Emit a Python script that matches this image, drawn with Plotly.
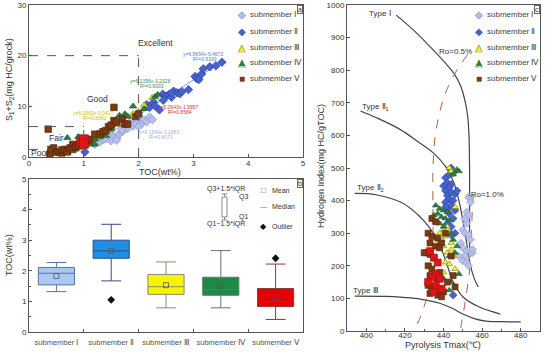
import numpy as np
import plotly.graph_objects as go

FONT = "Arial, Liberation Sans, sans-serif"
W, H = 550, 352

# ---------------- Panel a data: TOC vs S1+S2 ----------------
tocI = [1.2, 1.3, 1.35, 1.4, 1.45, 1.5, 1.5, 1.55, 1.6, 1.65, 1.7, 1.75, 1.8, 1.85, 1.9, 1.95, 2.0, 2.05, 2.1, 2.15, 2.2, 2.25, 1.6, 1.7, 2.0]
s12I = [2.5, 3.0, 3.4, 3.6, 4.2, 3.2, 4.5, 4.0, 3.8, 4.6, 5.0, 6.3, 5.6, 7.0, 6.1, 6.6, 7.2, 6.5, 7.3, 7.0, 7.9, 7.4, 3.3, 5.4, 6.0]
tocII = [1.02, 2.15, 2.2, 2.27, 2.3, 2.38, 2.44, 2.5, 2.55, 2.6, 2.64, 2.7, 2.75, 2.79, 2.91, 3.03, 3.06, 3.1, 3.15, 3.18, 3.3, 3.41, 3.52, 2.45, 2.6]
s12II = [1.0, 10.3, 9.8, 10.8, 10.1, 9.3, 12.4, 12.0, 12.3, 11.8, 13.0, 12.7, 12.5, 12.9, 13.3, 15.9, 15.5, 15.3, 16.4, 17.4, 17.8, 18.0, 18.7, 11.2, 12.6]
tocIII = [0.7, 0.8, 0.9, 0.95, 1.0, 1.05, 1.1, 1.2, 1.25, 1.3, 1.35, 1.4, 1.5, 1.6, 1.7, 1.8, 1.9, 2.0, 2.1, 2.25, 1.15, 1.45]
s12III = [1.0, 1.8, 2.2, 1.8, 2.6, 3.0, 3.5, 4.0, 3.8, 4.5, 4.4, 5.0, 6.0, 6.4, 7.1, 8.0, 8.5, 9.0, 10.2, 11.7, 2.8, 5.3]
tocIV = [0.7, 0.85, 0.9, 1.0, 1.0, 1.1, 1.15, 1.2, 1.2, 1.3, 1.4, 1.4, 1.45, 1.5, 1.55, 1.6, 1.65, 1.7, 1.75, 1.8, 1.9, 2.0, 2.1, 2.3, 2.35]
s12IV = [3.8, 1.5, 4.0, 3.5, 2.2, 3.0, 2.5, 3.5, 2.5, 4.0, 5.0, 4.2, 5.8, 5.5, 7.0, 6.5, 8.2, 7.5, 8.5, 8.0, 10.0, 8.5, 9.5, 11.9, 12.3]
tocV = [0.35, 0.38, 0.4, 0.45, 0.5, 0.55, 0.6, 0.6, 0.65, 0.7, 0.7, 0.75, 0.8, 0.8, 0.85, 0.9, 1.05, 1.1, 1.2, 1.3, 1.35, 1.4, 1.45, 1.5, 1.55, 1.55, 1.6, 1.7, 1.75, 1.8, 1.95, 2.0]
s12V = [5.5, 0.6, 1.5, 1.8, 1.0, 0.9, 0.8, 1.4, 1.5, 1.2, 1.0, 1.8, 2.5, 1.5, 2.0, 2.3, 3.2, 3.5, 4.5, 4.6, 5.0, 5.2, 6.0, 6.3, 7.2, 9.8, 7.0, 7.5, 6.5, 6.5, 8.0, 8.5]
tocV_red = [0.95, 1.0, 1.0]
s12V_red = [3.0, 3.5, 2.6]

# regression equations (slope, intercept, R2)
fit_slope = [4.1584, 6.8894, 6.0562, 6.1356, 5.0643]
fit_icpt = [-2.1983, -5.4672, -3.0417, -3.2328, -1.9957]
fit_r2 = ["0.8073", "0.9339", "0.8861", "0.9003", "0.8584"]

# grade boundaries (Poor / Fair / Good)
grade_toc = [0.4, 1.0, 2.0]
grade_s12 = [1.5, 6.0, 20.0]

# ---------------- Panel b data: TOC box statistics ----------------
cats = ["submember Ⅰ", "submember Ⅱ", "submember Ⅲ", "submember Ⅳ", "submember Ⅴ"]
box_lo = [1.32, 1.67, 0.79, 0.79, 0.41]
box_q1 = [1.54, 2.41, 1.23, 1.20, 0.83]
box_med = [1.92, 2.65, 1.48, 1.39, 1.00]
box_mean = [1.83, 2.65, 1.53, 1.51, 1.10]
box_q3 = [2.11, 3.00, 1.88, 1.79, 1.42]
box_hi = [2.27, 3.52, 2.29, 2.66, 2.22]
outlier_cat = ["submember Ⅱ", "submember Ⅴ"]
outlier_val = [1.05, 2.41]

# ---------------- Panel c data: HI vs Tmax ----------------
tmaxI = [453, 454, 452, 453, 451, 452, 450, 451, 453, 454, 449, 450, 452, 455, 451, 450, 452, 453, 448, 455]
hiI = [410, 395, 365, 355, 345, 330, 310, 300, 295, 280, 270, 255, 245, 240, 230, 215, 210, 200, 230, 250]
tmaxII = [444, 445, 441, 442, 444, 440, 443, 441, 444, 442, 446, 443, 445, 441, 444, 442, 446, 443, 445, 442, 444, 446, 444, 441, 447, 445, 443]
hiII = [500, 485, 470, 455, 450, 445, 440, 430, 425, 415, 420, 405, 400, 395, 385, 375, 370, 360, 345, 330, 320, 300, 295, 380, 430, 110, 480]
tmaxIII = [443, 444, 446, 442, 440, 443, 441, 439, 444, 440, 442, 445, 441, 443, 446, 440, 437, 438, 444]
hiIII = [500, 490, 380, 320, 310, 300, 290, 280, 270, 260, 240, 230, 210, 205, 190, 180, 170, 300, 250]
tmaxIV = [447, 448, 445, 436, 438, 440, 442, 437, 439, 441, 443, 436, 438, 440, 444, 445, 447, 446, 443, 448, 440, 444, 437, 443, 435]
hiIV = [495, 490, 480, 385, 375, 370, 365, 360, 350, 345, 340, 335, 330, 320, 300, 280, 260, 240, 230, 175, 160, 150, 130, 125, 355]
tmaxV = [434, 436, 432, 434, 437, 433, 436, 438, 431, 433, 435, 432, 434, 438, 433, 435, 437, 432, 434, 436, 438, 440, 433, 437, 439, 445, 442, 441, 439, 444, 430, 446]
hiV = [345, 335, 300, 290, 285, 270, 260, 255, 240, 235, 225, 200, 190, 180, 170, 165, 160, 140, 135, 130, 125, 120, 115, 110, 105, 170, 150, 300, 270, 230, 240, 135]
tmaxV_red = [433, 435, 437, 436, 434, 438, 432, 436, 439, 435]
hiV_red = [245, 225, 210, 175, 165, 160, 150, 140, 130, 120]

# kerogen type boundary curves
typeI_t = [415.5, 425, 435, 442, 446, 449, 451, 452.5, 453.2, 453.5, 453.5, 453.5]
typeI_hi = [969, 920, 860, 815, 785, 750, 710, 660, 600, 500, 400, 255]
typeII1_t = [397, 405, 417, 427, 435, 441, 445, 448, 450, 452, 454, 456, 458]
typeII1_hi = [675, 655, 620, 580, 545, 505, 460, 400, 340, 270, 200, 160, 135]
typeII2_t = [394, 405, 419, 427, 433, 438, 442, 445, 450, 458, 469.5]
typeII2_hi = [422, 418, 392, 355, 315, 265, 200, 150, 105, 75, 52]
typeIII_t = [394, 410, 419, 428, 438, 445, 450, 456, 462, 470, 480]
typeIII_hi = [107, 106, 103, 98, 85, 68, 52, 38, 30, 28.5, 28]
ro05_t = [452.5, 448, 445, 441, 438.3, 436, 435, 434.5, 434.5, 434.6, 434.5, 433, 431.4, 428.5, 425.8]
ro05_hi = [848, 810, 780, 730, 678, 610, 555, 494, 400, 300, 238, 170, 105, 50, 13]
ro10_t = [455.5, 455, 454.5, 454, 452.5, 451, 449.5, 448.7]
ro10_hi = [420, 380, 300, 212, 141, 80, 30, 0]

# ---------------- styling ----------------
col_fill = ["#b7bfea", "#4563d2", "#f2f21e", "#2f7d45", "#7a3a12"]
col_line = ["#8593d6", "#2c3e9a", "#7a7a10", "#1d5a2e", "#5a2508"]
symbols = ["diamond", "diamond", "triangle-up", "triangle-up", "square"]
fit_col = ["#a6aee8", "#4b86d8", "#c9c200", "#3f8a66", "#c23a3a"]
red_fill = "#e01414"

XA = [29 / W, 303 / W]
YA = [1 - 157 / H, 1 - 5 / H]
YB = [1 - 332 / H, 1 - 179 / H]
XC = [347 / W, 540 / W]
YC = [1 - 331 / H, 1 - 5 / H]

fig = go.Figure()

# ---- panel a scatter ----
a_x = [tocI, tocII, tocIII, tocIV, tocV]
a_y = [s12I, s12II, s12III, s12IV, s12V]
for i in range(5):
    xs = np.array(a_x[i])
    xx = np.array([xs.min(), xs.max()])
    fig.add_trace(go.Scatter(x=xx, y=fit_slope[i] * xx + fit_icpt[i], mode="lines",
                             line=dict(color=fit_col[i], width=0.8), xaxis="x", yaxis="y",
                             showlegend=False, hoverinfo="skip"))
for i in range(5):
    fig.add_trace(go.Scatter(x=a_x[i], y=a_y[i], mode="markers", xaxis="x", yaxis="y",
                             marker=dict(symbol=symbols[i], size=6.5, color=col_fill[i],
                                         line=dict(color=col_line[i], width=0.7)),
                             showlegend=False))
fig.add_trace(go.Scatter(x=tocV_red, y=s12V_red, mode="markers", xaxis="x", yaxis="y",
                         marker=dict(symbol="square", size=9, color=red_fill,
                                     line=dict(color="#a01010", width=0.7)), showlegend=False))

# ---- panel b boxes ----
box_fill = ["#a9c9f2", "#1f8fe6", "#f5f500", "#1d8a46", "#e40000"]
box_line = ["#5573a8", "#34488a", "#8c8c70", "#5d7a68", "#8a3a3a"]
for i in range(5):
    fig.add_trace(go.Box(x=[cats[i]], q1=[box_q1[i]], median=[box_med[i]], q3=[box_q3[i]],
                         lowerfence=[box_lo[i]], upperfence=[box_hi[i]],
                         xaxis="x2", yaxis="y2", fillcolor=box_fill[i],
                         line=dict(color=box_line[i], width=1), width=0.66, whiskerwidth=0.55,
                         boxpoints=False, showlegend=False, hoverinfo="skip"))
fig.add_trace(go.Scatter(x=cats, y=box_mean, mode="markers", xaxis="x2", yaxis="y2",
                         marker=dict(symbol="square-open", size=5, color="#555", line=dict(width=0.8)),
                         showlegend=False))
fig.add_trace(go.Scatter(x=outlier_cat, y=outlier_val, mode="markers", xaxis="x2", yaxis="y2",
                         marker=dict(symbol="diamond", size=6, color="#111"), showlegend=False))

# ---- panel c curves ----
curves = [(typeI_t, typeI_hi), (typeII1_t, typeII1_hi), (typeII2_t, typeII2_hi), (typeIII_t, typeIII_hi)]
for cx, cy in curves:
    fig.add_trace(go.Scatter(x=cx, y=cy, mode="lines", line=dict(color="#454545", width=1.2, shape="spline"),
                             xaxis="x3", yaxis="y3", showlegend=False, hoverinfo="skip"))
for cx, cy in [(ro05_t, ro05_hi), (ro10_t, ro10_hi)]:
    fig.add_trace(go.Scatter(x=cx, y=cy, mode="lines",
                             line=dict(color="#b2603c", width=1, dash="dash", shape="spline"),
                             xaxis="x3", yaxis="y3", showlegend=False, hoverinfo="skip"))

c_x = [tmaxI, tmaxII, tmaxIII, tmaxIV, tmaxV]
c_y = [hiI, hiII, hiIII, hiIV, hiV]
for i in range(5):
    fig.add_trace(go.Scatter(x=c_x[i], y=c_y[i], mode="markers", xaxis="x3", yaxis="y3",
                             marker=dict(symbol=symbols[i], size=6, color=col_fill[i],
                                         line=dict(color=col_line[i], width=0.6)),
                             showlegend=False))
fig.add_trace(go.Scatter(x=tmaxV_red, y=hiV_red, mode="markers", xaxis="x3", yaxis="y3",
                         marker=dict(symbol="square", size=7, color=red_fill,
                                     line=dict(color="#a01010", width=0.6)), showlegend=False))

# ---------------- shapes ----------------
shapes = []
for t, s in zip(grade_toc, grade_s12):
    shapes.append(dict(type="line", xref="x", yref="y", x0=0, x1=t, y0=s, y1=s,
                       line=dict(color="#555", width=1, dash="dash")))
    shapes.append(dict(type="line", xref="x", yref="y", x0=t, x1=t, y0=0, y1=s,
                       line=dict(color="#555", width=1, dash="dash")))


def PX(x):
    return x / W


def PY(y):
    return 1 - y / H


# box legend key in panel b
kc = "#8a8a8a"
shapes += [
    dict(type="line", xref="paper", yref="paper", x0=PX(224.5), x1=PX(224.5), y0=PY(194), y1=PY(220), line=dict(color=kc, width=1)),
    dict(type="line", xref="paper", yref="paper", x0=PX(221.5), x1=PX(227.5), y0=PY(194), y1=PY(194), line=dict(color=kc, width=1)),
    dict(type="line", xref="paper", yref="paper", x0=PX(221.5), x1=PX(227.5), y0=PY(220), y1=PY(220), line=dict(color=kc, width=1)),
    dict(type="rect", xref="paper", yref="paper", x0=PX(222), x1=PX(227), y0=PY(197), y1=PY(217), line=dict(color=kc, width=1), fillcolor="white"),
]

# ---------------- annotations ----------------
ann = []


def txt(x, y, s, size=8, color="#333", xanchor="center", ref="paper", angle=0):
    if ref == "paper":
        d = dict(xref="paper", yref="paper", x=PX(x), y=PY(y))
    else:
        d = dict(xref=ref[0], yref=ref[1], x=x, y=y)
    d.update(text=s, showarrow=False, xanchor=xanchor, yanchor="middle", textangle=angle,
             font=dict(family=FONT, size=size, color=color))
    ann.append(d)


# axis titles
txt(9, 80, "S<sub>1</sub>+S<sub>2</sub>(mg HC/grock)", 9, angle=-90)
txt(160, 172, "TOC(wt%)", 9)
txt(9, 255, "TOC(wt%)", 9, angle=-90)
txt(321, 166, "Hydrogen Index(mg HC/gTOC)", 9, angle=-90)
txt(443, 345, "Pyrolysis Tmax(℃)", 9)

# panel a grade labels
txt(155, 43, "Excellent", 8.5)
txt(97, 99, "Good", 8.5)
txt(56, 138, "Fair", 8.5)
txt(40, 153, "Poor", 8.5)

# regression equation labels
eq_pos = [(159, 132), (203, 54), (93, 113), (150, 81), (178, 107)]
for i in range(5):
    sgn = "-" if fit_icpt[i] < 0 else "+"
    txt(eq_pos[i][0], eq_pos[i][1], "y=%.4fx%s%.4f" % (fit_slope[i], sgn, abs(fit_icpt[i])), 5, fit_col[i])
    txt(eq_pos[i][0] + 2, eq_pos[i][1] + 5, "R²=" + fit_r2[i], 5, fit_col[i])

# manual legends (panel a and c)
leg_y = [15, 31, 47, 63, 79]
glyph = ["◆", "◆", "▲", "▲", "■"]
outline = ["◇", None, "△", "△", None]
for mx in (242, 479):
    for i in range(5):
        txt(mx, leg_y[i], glyph[i], 10, col_fill[i])
        if outline[i]:
            txt(mx, leg_y[i], outline[i], 10, col_line[i])
        txt(mx + 6, leg_y[i], cats[i], 8, "#444", xanchor="left")

# panel b key text
txt(225.5, 189, "Q3+1.5*IQR", 7)
txt(237, 197, "Q3", 7, xanchor="left")
txt(237, 217, "Q1", 7, xanchor="left")
txt(225.5, 224, "Q1−1.5*IQR", 7)
txt(263, 190, "□", 8, "#555")
txt(270, 190, "Mean", 7, xanchor="left")
txt(263, 207, "—", 7, "#777")
txt(270, 207, "Median", 7, xanchor="left")
txt(263, 226, "◆", 8, "#111")
txt(270, 226, "Outlier", 7, xanchor="left")

# panel c curve labels
txt(407, 973, "Type Ⅰ", 8, ref=("x3", "y3"))
txt(405, 688, "Type Ⅱ<sub>1</sub>", 8, ref=("x3", "y3"))
txt(402, 438, "Type Ⅱ<sub>2</sub>", 8, ref=("x3", "y3"))
txt(400, 124, "Type Ⅲ", 8, ref=("x3", "y3"))
txt(446, 858, "Ro=0.5%", 8, ref=("x3", "y3"))
txt(462, 420, "-Ro=1.0%", 8, ref=("x3", "y3"))

# panel letters
for letter, xr, yt in [("a", 303, 5), ("b", 303, 179), ("c", 540, 5)]:
    ann.append(dict(xref="paper", yref="paper", x=PX(xr), y=PY(yt), xanchor="right", yanchor="top",
                    text=letter, showarrow=False, font=dict(family=FONT, size=7, color="#333"),
                    bordercolor="#666", borderwidth=1, borderpad=0, bgcolor="white"))

axis_common = dict(showline=True, linecolor="#555", linewidth=1, mirror=True, ticks="inside",
                   ticklen=3, tickcolor="#555", showgrid=False, zeroline=False, automargin=False,
                   tickfont=dict(family=FONT, size=8, color="#333"))

fig.update_layout(
    width=W, height=H, margin=dict(l=0, r=0, t=0, b=0, autoexpand=False),
    paper_bgcolor="white", plot_bgcolor="white", showlegend=False,
    font=dict(family=FONT),
    xaxis=dict(domain=XA, anchor="y", range=[0, 5], dtick=1, ticklabelstandoff=-2, **axis_common),
    yaxis=dict(domain=YA, anchor="x", range=[0, 30], dtick=10, **axis_common),
    xaxis2=dict(domain=XA, anchor="y2", type="category", range=[-0.5, 4.5], tickson="boundaries",
                tickangle=0, ticklabelstandoff=3,
                **{**axis_common, "tickfont": dict(family=FONT, size=7.5, color="#555")}),
    yaxis2=dict(domain=YB, anchor="x2", range=[0, 5], dtick=1,
                minor=dict(dtick=0.5, ticks="inside", ticklen=2, tickcolor="#555"), **axis_common),
    xaxis3=dict(domain=XC, anchor="y3", range=[390, 490], dtick=20, ticklabelstandoff=-4,
                minor=dict(dtick=10, ticks="inside", ticklen=2, tickcolor="#555"), **axis_common),
    yaxis3=dict(domain=YC, anchor="x3", range=[0, 1000], dtick=100, **axis_common),
    shapes=shapes, annotations=ann,
)

fig.write_html("out.html", config={"displayModeBar": False},
               post_script="document.body.style.margin='0';document.body.style.overflow='hidden';")
